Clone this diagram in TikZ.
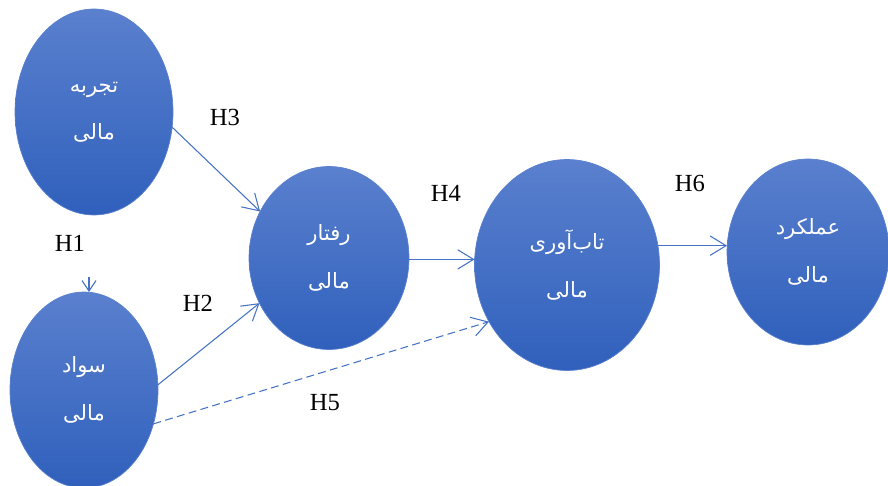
\documentclass[tikz,border=0pt]{standalone}
\usepackage{fontspec}
\setmainfont{Liberation Serif}
\newfontfamily\arfont[Script=Arabic]{DejaVu Sans}
\TeXXeTstate=1
\usetikzlibrary{shapes.geometric,arrows.meta}
\definecolor{lineblue}{HTML}{4472C4}
\definecolor{toptone}{HTML}{5A80CE}
\definecolor{midtone}{HTML}{4470C6}
\definecolor{lowtone}{HTML}{3060BC}
\begin{document}
\begin{tikzpicture}[x=0.02cm,y=-0.02cm,
    varbl/.style={ellipse,inner sep=0pt,outer sep=0pt,draw=toptone,line width=.4pt,
      top color=toptone,middle color=midtone,bottom color=lowtone,
      text=white,align=center,font=\arfont\fontsize{12}{27}\selectfont},
    link/.style={draw=lineblue,line width=.6pt,-{Straight Barb[length=9pt,width=11pt,line width=.6pt]}},
    hyp/.style={font=\fontsize{14}{16}\selectfont}]
  \useasboundingbox (0,0) rectangle (888,486);
  \clip (0,0) rectangle (888,486);
  \node [varbl,minimum width=3.16cm,minimum height=4.12cm] (tajrobe) at (94,112) {\beginR تجربه\endR\\\beginR مالی\endR};
  \node [varbl,minimum width=2.96cm,minimum height=3.92cm] (savad) at (84,390) {\beginR سواد\endR\\\beginR مالی\endR};
  \node [varbl,minimum width=3.2cm,minimum height=3.66cm] (raftar) at (329,258) {\beginR رفتار\endR\\\beginR مالی\endR};
  \node [varbl,minimum width=3.7cm,minimum height=4.22cm] (tabavari) at (567,265) {\beginR تاب‌آوری\endR\\\beginR مالی\endR};
  \node [varbl,minimum width=3.24cm,minimum height=3.72cm] (amalkard) at (808,252) {\beginR عملکرد\endR\\\beginR مالی\endR};
  \coordinate (h1start) at (89,277);
  \draw [link,-{Straight Barb[length=6pt,width=8pt,line width=.6pt]}] (h1start) -- (h1start |- savad.north);
  \draw [link] (tajrobe.-11) -- (raftar.146);
  \draw [link] (savad.4) -- (raftar.213);
  \draw [link,dash pattern=on 4.5pt off 2.5pt] (savad.-26) -- (tabavari.216);
  \draw [link] (raftar.-1) -- (raftar.-1 -| tabavari.west);
  \draw [link] (tabavari.12) -- (tabavari.12 -| amalkard.west);
  \node [hyp] (h1) at (70,243) {H1};
  \node [hyp] (h2) at (198,303) {H2};
  \node [hyp] (h3) at (225,117) {H3};
  \node [hyp] (h4) at (446,193) {H4};
  \node [hyp] (h5) at (325,403) {H5};
  \node [hyp] (h6) at (690,183) {H6};
\end{tikzpicture}
\end{document}
